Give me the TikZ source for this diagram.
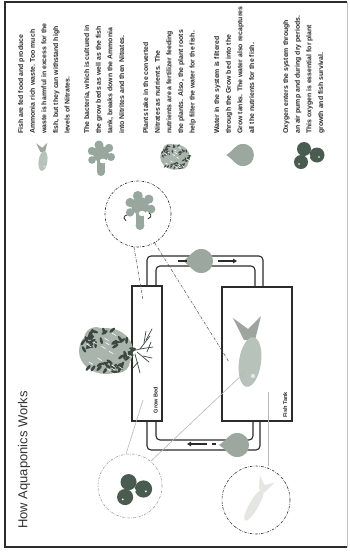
\documentclass[tikz,border=0pt]{standalone}
\usepackage{fontspec}
\setmainfont{Liberation Sans}
\usetikzlibrary{arrows.meta}
\definecolor{inkdark}{HTML}{2B2B2B}
\definecolor{fishbody}{HTML}{B7C2BA}
\definecolor{fishtail}{HTML}{9EA59F}
\definecolor{germ}{HTML}{97A79D}
\definecolor{dropfill}{HTML}{9CA89F}
\definecolor{oxy}{HTML}{4A5C50}
\definecolor{leafmid}{HTML}{A9B4AD}
\definecolor{leafdark}{HTML}{3C4740}
\definecolor{palefish}{HTML}{E4E6E4}
\tikzset{
  frame/.style={line width=1.4pt, draw=inkdark},
  tankbox/.style={draw=inkdark, line width=1.1pt, inner sep=0pt},
  pipe/.style={draw=inkdark, line width=1.1pt, rounded corners=4pt},
  lens/.style={circle, draw=inkdark, line width=0.6pt, inner sep=0pt,
    dash pattern=on 2.5pt off 1.3pt on 0.6pt off 1.3pt},
  lenslight/.style={lens, draw=black!38},
  link/.style={draw=black!70, line width=0.5pt,
    dash pattern=on 3pt off 1.3pt on 0.6pt off 1.3pt},
  linklight/.style={draw=black!28, line width=0.6pt},
  flow/.style={-{Triangle[length=4pt,width=4.5pt]}, line width=1.6pt, draw=inkdark},
  dash mark/.style={line width=1.6pt, draw=inkdark},
  bodytext/.style={font=\bfseries\fontsize{6.9}{11.6}\selectfont, align=left, inner sep=0pt,
    rotate=90, anchor=north west, text=inkdark},
  tanklabel/.style={font=\bfseries\fontsize{5.6}{6}\selectfont, rotate=90, inner sep=0pt, text=inkdark},
  root/.style={draw=leafdark, line width=0.7pt, line cap=round},
  % a fish with its tail up, body centred on the origin
  fishpic/.pic={
    \fill[fishtail] (-6,-22) -- (-17,-44) -- (-2,-33) -- (11,-46) -- (5,-22) -- cycle;
    \fill[fishbody, rotate=-8] (0,0) ellipse [x radius=11, y radius=25];
    \fill[white, opacity=0.6] (3,14) circle [radius=2.2];
  },
  palefishpic/.pic={
    \fill[palefish] (-5,-22) -- (-13,-38) -- (-1,-30) -- (9,-40) -- (4,-22) -- cycle;
    \fill[palefish] (0,0) ellipse [x radius=6, y radius=24];
  },
  % lobed bacterium with a short stem
  germpic/.pic={
    \fill[germ] (0,-2) circle [radius=8];
    \fill[germ] (-2,-11) circle [radius=4.5];
    \fill[germ] (8,-8) circle [radius=4.2];
    \fill[germ] (-9,-5) circle [radius=4.2];
    \fill[germ] (10,1) circle [radius=4];
    \fill[germ] (-9,4) circle [radius=3.8];
    \fill[germ] (-4,5) rectangle (4,16);
    \fill[germ] (0,16) circle [radius=4];
    \fill[white] (2,5) ellipse [x radius=3.2, y radius=2.4];
  },
  % drop with its tip pointing left
  droppic/.pic={
    \fill[dropfill] (-16,0) .. controls (-8,-5) and (-6,-12) .. (2,-12)
      .. controls (10,-12) and (14,-6) .. (14,0)
      .. controls (14,6) and (10,12) .. (2,12)
      .. controls (-6,12) and (-8,5) .. (-16,0) -- cycle;
  },
  oxypic/.pic={
    \fill[oxy] (-3,-6) circle [radius=7];
    \fill[oxy] (-6,7) circle [radius=7];
    \fill[oxy] (10,0) circle [radius=7.5];
    \fill[white] (2,1) circle [radius=1.6];
    \fill[white] (-8,9) circle [radius=0.9];
    \fill[white] (12,2) circle [radius=0.9];
  },
  % mottled leafy clump
  plantpic/.pic={
    \fill[leafmid] (0,0) ellipse [x radius=27, y radius=23];
    \fill[leafmid] (-10,-12) circle [radius=12];
    \fill[leafmid] (12,10) circle [radius=12];
    \pgfmathsetseed{11}
    \foreach \i in {1,...,48} {
      \pgfmathsetmacro\ang{rnd*360}
      \pgfmathsetmacro\rad{0.35+0.65*sqrt(rnd)}
      \pgfmathsetmacro\px{27*\rad*cos(\ang)}
      \pgfmathsetmacro\py{23*\rad*sin(\ang)}
      \pgfmathsetmacro\tilt{rnd*180}
      \fill[leafdark, rotate around={\tilt:(\px,\py)}] (\px,\py) ellipse [x radius=3.6, y radius=1.4];
    }
    \foreach \i in {1,...,14} {
      \pgfmathsetmacro\ang{rnd*360}
      \pgfmathsetmacro\rad{sqrt(rnd)*0.9}
      \pgfmathsetmacro\px{27*\rad*cos(\ang)}
      \pgfmathsetmacro\py{23*\rad*sin(\ang)}
      \draw[white, line width=0.6pt] (\px,\py) -- ++(4,2.5);
    }
  },
}
\begin{document}
\begin{tikzpicture}[x=1pt,y=-1pt]
\useasboundingbox (0,0) rectangle (350,552);
\fill[white] (0,0) rectangle (350,552);

% page frame
\draw[frame] (347,2) -- (5,2) -- (5,547) -- (347,547);
\draw[black!25, line width=0.6pt] (347,2) -- (347,547);

% title
\node[rotate=90, font=\fontsize{13}{15}\selectfont, text=black!80, inner sep=0pt] (title) at (24,460) {How Aquaponics Works};

% explanations along the top
\node[bodytext] (txtfish) at (18,134) {Fish are fed food and produce\\Ammonia rich waste. Too much\\waste is harmful in excess for the\\fish, but they can withstand high\\levels of Nitrates.};
\node[bodytext] (txtgerm) at (84,134) {The bacteria, which is cultured in\\the grow beds as well as the fish\\tank, breaks down the Ammonia\\into Nitrites and then Nitrates.};
\node[bodytext] (txtplant) at (143,134) {Plants take in the converted\\Nitrates as nutrients. The\\nutrients are a fertilizer feeding\\the plants. Also, the plant roots\\help filter the water for the fish.};
\node[bodytext] (txtwater) at (214,134) {Water in the system is filtered\\through the Grow bed into the\\Grow tanks. The water also recaptures\\all the nutrients for the fish.};
\node[bodytext] (txtoxy) at (283,134) {Oxygen enters the system through\\an air pump and during dry periods.\\This oxygen is essential for plant\\growth and fish survival.};

% icon row
\pic[scale=0.4] at (43,161) {fishpic};
\pic at (101,156) {germpic};
\pic[scale=0.55] at (175,157) {plantpic};
\pic[scale=0.92] at (241,155) {droppic};
\pic at (307,155) {oxypic};

% grow bed and fish tank
\node[tankbox, minimum width=30pt, minimum height=135pt] (grow) at (147,353.5) {};
\node[tankbox, minimum width=70pt, minimum height=134pt] (tank) at (257,354) {};
\node[tanklabel] (growlbl) at (155.5,400) {Grow Bed};
\node[tanklabel] (tanklbl) at (285,405) {Fish Tank};

% fish in the tank
\pic at (250,362) {fishpic};

% plant beside the grow bed, roots reaching into it
\pic at (106,351) {plantpic};
\draw[root] (128,352) -- (140,349) -- (150,336);
\draw[root] (140,349) -- (153,347);
\draw[root] (137,352) -- (149,362);
\draw[root] (135,354) -- (140,373);
\draw[root] (144,343) -- (146,331);
\draw[root] (146,340) -- (152,329);
\draw[root] (143,356) -- (152,358);
\draw[root] (138,362) -- (133,368);
\draw[root] (147,352) -- (151,342);

% supply pipe to the fish tank
\draw[pipe] (147,286) -- (147,256) -- (263,256) -- (263,287);
\draw[pipe] (156,286) -- (156,266) -- (255,266) -- (255,287);
\pic at (199,261) {droppic};
\draw[dash mark] (178,261) -- (187,261);
\draw[flow] (218,261) -- (237,261);

% return pipe to the grow bed
\draw[pipe] (147,421) -- (147,450) -- (260,450) -- (260,421);
\draw[pipe] (156,421) -- (156,440) -- (253,440) -- (253,421);
\pic at (235,445) {droppic};
\draw[dash mark] (212,444) -- (216,444);
\draw[flow] (207,444) -- (187,444);

% magnified views
\node[lens, minimum size=66pt] (lensgerm) at (138,214) {};
\pic[scale=1.1] at (140,208) {germpic};
\draw[inkdark, line width=0.8pt] (127,215) arc [start angle=-90, end angle=-250, radius=3];
\draw[inkdark, line width=0.8pt] (149,213) arc [start angle=-70, end angle=90, radius=3];

\node[lenslight, minimum size=64pt] (lensoxy) at (130,486) {};
\pic[scale=1.15] at (132,489) {oxypic};

\node[lens, minimum size=68pt] (lensfood) at (256,500) {};
\pic[scale=0.75, rotate=-30] at (254,505) {palefishpic};

% links from the magnified views
\coordinate (growtop) at (143,300);
\coordinate (growbot) at (143,400);
\coordinate (fishmid) at (229,362);
\coordinate (fishlow) at (245,372);
\coordinate (fishtail) at (268,392);
\draw[link] (lensgerm.-97) -- (growtop);
\draw[link] (lensgerm.-60) -- (fishmid);
\draw[linklight] (growbot) -- (lensoxy.97);
\draw[linklight] (lensoxy.50) -- (fishlow);
\draw[linklight] (fishtail) -- (lensfood.north -| fishtail);
\end{tikzpicture}
\end{document}
